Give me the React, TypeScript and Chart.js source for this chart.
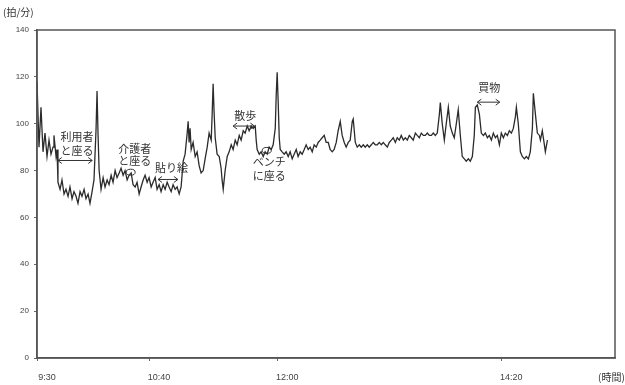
import React, { useEffect, useRef } from "react";
import { Chart, registerables } from "chart.js";
Chart.register(...registerables);

// minutes after 9:30
const TIMES = [
  0, 1.25, 2.5, 3.75, 5, 6.25, 7.5, 8.75, 10, 10.6, 11.9, 12.5, 13.1, 14.4, 15.6, 16.9, 18.1, 19.4, 20.6, 21.9,
  23.1, 24.4, 25.6, 26.9, 28.1, 29.4, 30.6, 31.9, 33.1, 34.4, 35.6, 36.9, 37.5, 38.1, 38.8, 40, 41.3, 42.5, 43.8, 45,
  46.3, 47.5, 48.8, 50, 51.3, 52.5, 53.8, 55, 56.3, 57.5, 58.8, 60, 61.3, 62.5, 63.8, 65, 66.3, 67.5, 68.8, 70,
  71.3, 72.5, 73.8, 75, 76.3, 77.5, 78.8, 80, 81.3, 82.5, 83.8, 85, 86.3, 87.5, 88.8, 90, 91.3, 92.5, 93.8, 94.4,
  95, 95.6, 96.3, 97.5, 98.8, 100, 101.3, 102.5, 103.8, 105, 106.3, 107.5, 108.8, 109.4, 110, 110.6, 111.3, 112.5, 113.8, 115,
  115.6, 116.3, 117.5, 118.8, 120, 121.3, 122.5, 123.8, 125, 126.3, 127.5, 128.8, 130, 131.3, 132.5, 133.8, 135, 136.3, 136.9, 137.5,
  138.8, 140, 141.3, 142.5, 143.8, 145, 146.3, 147.5, 148.8, 149.4, 150, 150.6, 151.3, 151.9, 153.1, 154.4, 155.6, 156.9, 158.1, 159.4,
  160.6, 161.9, 163.1, 164.4, 165.6, 166.9, 168.1, 169.4, 170.6, 171.9, 173.1, 174.4, 175.6, 176.9, 178.1, 179.4, 180.6, 181.9, 183.1, 184.4,
  185.6, 186.9, 188.1, 189.4, 190.6, 191.9, 193.1, 194.4, 195.6, 196.9, 197.5, 198.8, 200, 201.3, 202.5, 203.8, 205, 206.3, 207.5, 208.8,
  210, 211.3, 212.5, 213.8, 215, 216.3, 217.5, 218.8, 220, 221.3, 222.5, 223.8, 225, 226.3, 227.5, 228.8, 230, 231.3, 232.5, 233.8,
  235, 236.3, 237.5, 238.8, 240, 241.3, 242.5, 243.8, 245, 246.3, 247.5, 248.8, 250, 251.3, 251.9, 253.1, 254.4, 255.6, 256.9, 258.1,
  259.4, 260.6, 261.9, 263.1, 264.4, 265.6, 266.9, 268.1, 269.4, 270.6, 271.9, 273.1, 273.8, 275, 276.3, 277.5, 278.8, 280, 281.3, 282.5,
  283.8, 285, 286.3, 287.5, 288.8, 290, 291.3, 292.5, 293.8, 295, 296.3, 297.5, 298.8, 299.4, 300.6, 301.9, 303.1, 304.4, 305.6, 306.9,
  308.1, 309.4, 310, 311.3, 312.5, 313.8, 314.4, 315.6, 316.9, 317.5, 318.8,
];

// heart rate (beats / min)
const HEART_RATE = [
  118, 90, 107, 88, 96, 86, 93, 87, 90, 95, 86, 89, 75, 72, 76, 70, 72, 69, 73, 68,
  71, 69, 66, 71, 69, 72, 68, 70, 66, 71, 76, 98, 114, 96, 80, 72, 77, 73, 76, 74,
  78, 75, 80, 77, 79, 81, 78, 80, 76, 78, 79, 74, 73, 75, 70, 73, 76, 78, 75, 77,
  73, 75, 77, 72, 74, 71, 74, 72, 75, 73, 71, 74, 72, 73, 70, 73, 84, 87, 96, 101,
  92, 98, 89, 92, 86, 88, 82, 79, 80, 85, 90, 96, 93, 104, 117, 105, 94, 87, 86, 81,
  76, 72, 80, 86, 88, 91, 89, 93, 91, 95, 93, 97, 96, 99, 97, 99, 98, 99, 93, 89,
  87, 88, 86, 88, 87, 90, 89, 91, 98, 112, 122, 110, 94, 89, 88, 87, 88, 86, 88, 85,
  87, 89, 86, 88, 87, 89, 91, 89, 90, 88, 91, 90, 92, 93, 94, 95, 92, 92, 89, 88,
  89, 92, 97, 101, 95, 92, 90, 92, 93, 101, 102, 92, 90, 91, 90, 91, 90, 91, 90, 91,
  92, 91, 91, 92, 91, 92, 91, 90, 92, 93, 94, 92, 94, 93, 95, 93, 94, 93, 95, 94,
  93, 96, 95, 94, 96, 95, 95, 96, 95, 95, 96, 95, 96, 104, 109, 100, 93, 100, 107, 99,
  96, 94, 100, 106, 95, 86, 85, 84, 85, 84, 86, 95, 107, 108, 104, 96, 95, 96, 94, 95,
  93, 96, 94, 95, 91, 96, 94, 96, 95, 97, 96, 98, 103, 107, 100, 88, 86, 85, 86, 85,
  88, 98, 113, 104, 96, 95, 93, 97, 91, 88, 93,
];

const X_TICK_MINUTES = [0, 70, 150, 290];
const X_TICK_LABELS = ["9:30", "10:40", "12:00", "14:20"];
const Y_MAX = 140;
const Y_STEP = 20;

const NOTE_TEXTS = [["利用者", "と座る"], ["介護者", "と座る"], ["貼り絵"], ["散歩"], ["ベンチ", "に座る"], ["買物"]];
const NOTE_MINUTES = [25, 61, 84, 130, 145, 282.5];
const NOTE_LEVELS = [[94.5, 88.5], [89.2, 84], [81], [103.2], [83.6, 77.6], [115.2]];
const ARROW_FROM = [13, 75.6, 122.5, 275];
const ARROW_TO = [34.5, 88, 135.8, 289];
const ARROW_LEVELS = [84.3, 76.2, 99, 109.2];
const CIRCLE_MINUTES = [58.5, 143.5];
const CIRCLE_LEVELS = [79.3, 88.6];

const overlay = {
  id: "overlay",
  afterDraw(chart: any) {
    const { ctx, chartArea, scales } = chart;
    const xs = scales.x;
    const ys = scales.y;
    ctx.save();
    ctx.strokeStyle = "#555";
    ctx.lineWidth = 1.5;
    ctx.strokeRect(chartArea.left, chartArea.top, chartArea.right - chartArea.left, chartArea.bottom - chartArea.top);

    ctx.fillStyle = "#333";
    ctx.font = '10px "Noto Sans CJK JP"';
    ctx.textAlign = "left";
    ctx.textBaseline = "middle";
    ctx.fillText("(拍/分)", 3, 12);
    ctx.fillText("(時間)", 598, 377);

    ctx.font = '11px "Noto Sans CJK JP"';
    ctx.textAlign = "center";
    NOTE_TEXTS.forEach((lines, i) => {
      lines.forEach((t, j) => {
        ctx.fillText(t, xs.getPixelForValue(NOTE_MINUTES[i]), ys.getPixelForValue(NOTE_LEVELS[i][j]));
      });
    });

    ctx.strokeStyle = "#333";
    ctx.lineWidth = 1;
    ARROW_FROM.forEach((f, i) => {
      const x1 = xs.getPixelForValue(f);
      const x2 = xs.getPixelForValue(ARROW_TO[i]);
      const yy = ys.getPixelForValue(ARROW_LEVELS[i]);
      ctx.beginPath();
      ctx.moveTo(x1, yy);
      ctx.lineTo(x2, yy);
      ctx.moveTo(x1 + 4, yy - 3);
      ctx.lineTo(x1, yy);
      ctx.lineTo(x1 + 4, yy + 3);
      ctx.moveTo(x2 - 4, yy - 3);
      ctx.lineTo(x2, yy);
      ctx.lineTo(x2 - 4, yy + 3);
      ctx.stroke();
    });

    CIRCLE_MINUTES.forEach((m, i) => {
      ctx.beginPath();
      ctx.ellipse(xs.getPixelForValue(m), ys.getPixelForValue(CIRCLE_LEVELS[i]), 4.5, 3, 0, 0, Math.PI * 2);
      ctx.stroke();
    });
    ctx.restore();
  },
};

export default function App() {
  const ref = useRef<HTMLCanvasElement>(null);
  useEffect(() => {
    const chart = new Chart(ref.current!, {
      type: "line",
      data: {
        datasets: [
          {
            data: TIMES.map((t, i) => ({ x: t, y: HEART_RATE[i] })),
            borderColor: "#2b2b2b",
            borderWidth: 1.3,
            pointRadius: 0,
            tension: 0,
            fill: false,
          },
        ],
      },
      options: {
        animation: false,
        responsive: false,
        layout: { padding: { top: 30, right: 10, left: 0, bottom: 0 } },
        plugins: { legend: { display: false }, tooltip: { enabled: false } },
        scales: {
          x: {
            type: "linear",
            min: 0,
            max: 361,
            afterBuildTicks: (s: any) => {
              s.ticks = X_TICK_MINUTES.map((v) => ({ value: v }));
            },
            afterFit: (s: any) => {
              s.height = 27;
            },
            ticks: {
              autoSkip: false,
              maxRotation: 0,
              labelOffset: 10,
              padding: 11,
              color: "#444",
              font: { size: 9, family: "Liberation Sans" },
              callback: (v: any) => X_TICK_LABELS[X_TICK_MINUTES.indexOf(Number(v))] ?? "",
            },
            grid: { drawOnChartArea: false, drawTicks: true, tickLength: 3, color: "#666" },
            border: { display: true, color: "#555", width: 1.5 },
          },
          y: {
            min: 0,
            max: Y_MAX,
            afterFit: (s: any) => {
              s.width = 37;
            },
            ticks: {
              stepSize: Y_STEP,
              padding: 5,
              color: "#444",
              font: { size: 8, family: "Liberation Sans" },
            },
            grid: { drawOnChartArea: false, drawTicks: true, tickLength: 3, color: "#666" },
            border: { display: true, color: "#555", width: 1.5 },
          },
        },
      },
      plugins: [overlay],
    });
    return () => chart.destroy();
  }, []);
  return (
    <div style={{ position: "fixed", left: 0, top: 0, width: 625, height: 385, background: "#fff" }}>
      <canvas ref={ref} width={625} height={385} />
    </div>
  );
}
